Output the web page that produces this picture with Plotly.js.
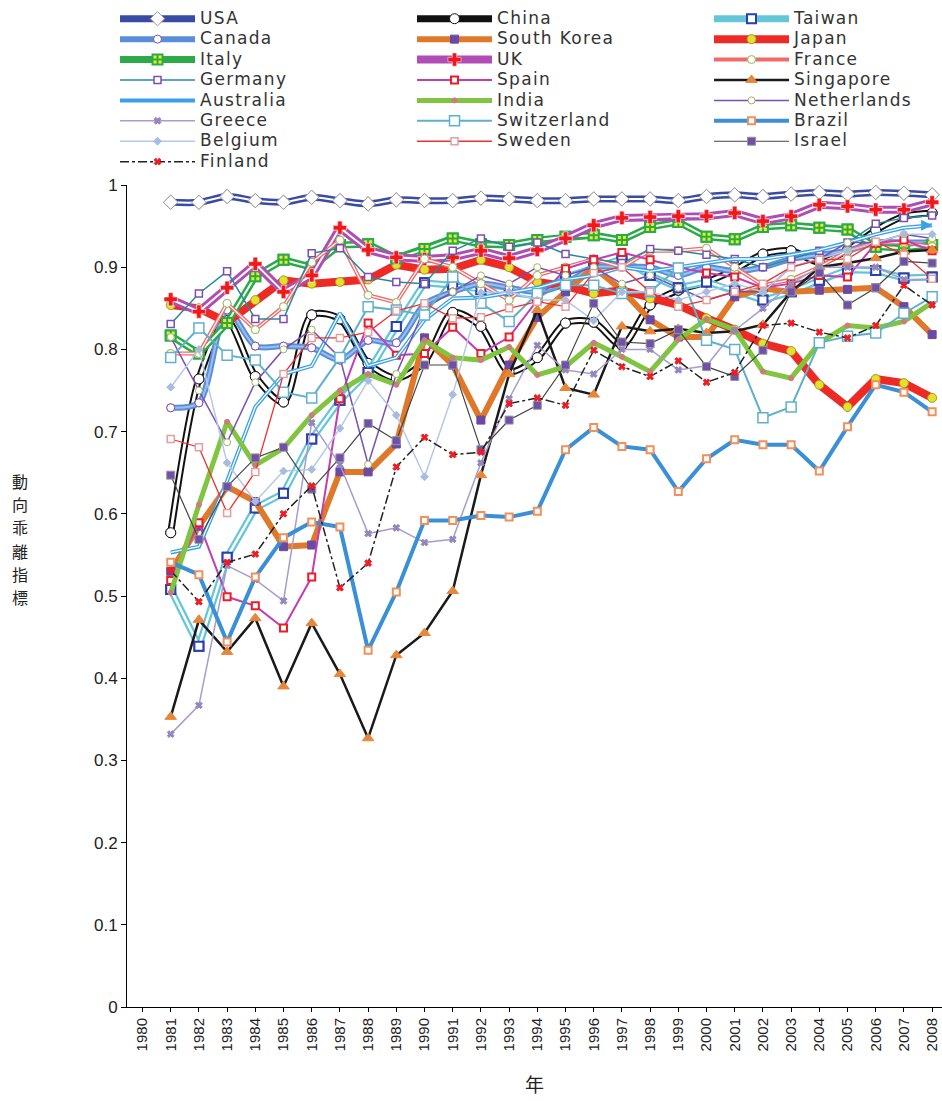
<!DOCTYPE html>
<html><head><meta charset="utf-8">
<script src="https://cdn.plot.ly/plotly-3.0.1.min.js"></script>
<style>
html,body{margin:0;background:#fff;overflow:hidden;width:942px;height:1101px}
#c{width:1010px;height:1101px}
#c .legendtext{font-size:17px !important;letter-spacing:1.3px}
</style>
</head><body><div id="c"></div>
<script>
const years=[1981,1982,1983,1984,1985,1986,1987,1988,1989,1990,1991,1992,1993,1994,1995,1996,1997,1998,1999,2000,2001,2002,2003,2004,2005,2006,2007,2008];
const tickYears=[1980,1981,1982,1983,1984,1985,1986,1987,1988,1989,1990,1991,1992,1993,1994,1995,1996,1997,1998,1999,2000,2001,2002,2003,2004,2005,2006,2007,2008];
const usa=[0.979,0.979,0.986,0.981,0.979,0.985,0.981,0.977,0.982,0.981,0.981,0.984,0.983,0.981,0.981,0.983,0.983,0.983,0.981,0.986,0.988,0.986,0.989,0.991,0.989,0.991,0.990,0.988];
const china=[0.577,0.764,0.835,0.767,0.736,0.842,0.837,0.783,0.765,0.785,0.845,0.828,0.773,0.79,0.832,0.833,0.805,0.854,0.872,0.882,0.897,0.916,0.92,0.906,0.921,0.945,0.962,0.966];
const taiwan=[0.508,0.439,0.547,0.607,0.625,0.691,0.738,0.772,0.828,0.881,0.878,0.873,0.87,0.865,0.888,0.9,0.91,0.89,0.875,0.882,0.872,0.86,0.87,0.884,0.897,0.896,0.887,0.888];
const canada=[0.729,0.735,0.848,0.804,0.804,0.802,0.787,0.811,0.808,0.855,0.87,0.88,0.875,0.87,0.88,0.9,0.9,0.9,0.89,0.9,0.895,0.9,0.91,0.915,0.92,0.93,0.93,0.93];
const southKorea=[0.53,0.585,0.633,0.615,0.56,0.562,0.651,0.651,0.685,0.814,0.781,0.714,0.781,0.839,0.87,0.9,0.872,0.836,0.815,0.815,0.864,0.874,0.87,0.872,0.873,0.875,0.852,0.818];
const japan=[0.854,0.85,0.833,0.86,0.884,0.88,0.882,0.885,0.903,0.897,0.898,0.909,0.9,0.882,0.877,0.868,0.872,0.862,0.854,0.838,0.824,0.807,0.798,0.757,0.73,0.764,0.759,0.741];
const italy=[0.817,0.795,0.832,0.889,0.909,0.9,0.927,0.928,0.911,0.922,0.935,0.928,0.927,0.933,0.937,0.939,0.933,0.949,0.955,0.937,0.934,0.949,0.951,0.948,0.946,0.925,0.923,0.927];
const uk=[0.861,0.846,0.875,0.904,0.87,0.89,0.948,0.921,0.912,0.91,0.912,0.92,0.911,0.921,0.935,0.951,0.96,0.961,0.962,0.962,0.966,0.956,0.962,0.976,0.974,0.97,0.97,0.979];
const france=[0.795,0.795,0.856,0.824,0.852,0.906,0.933,0.866,0.857,0.91,0.9,0.88,0.86,0.89,0.9,0.91,0.9,0.92,0.92,0.923,0.9,0.878,0.885,0.9,0.92,0.93,0.93,0.925];
const germany=[0.831,0.868,0.895,0.837,0.837,0.917,0.923,0.888,0.882,0.88,0.92,0.935,0.925,0.93,0.916,0.91,0.905,0.922,0.92,0.915,0.91,0.9,0.91,0.92,0.93,0.953,0.96,0.963];
const spain=[0.519,0.589,0.499,0.488,0.461,0.523,0.74,0.832,0.793,0.795,0.827,0.795,0.815,0.86,0.898,0.909,0.918,0.909,0.9,0.893,0.888,0.875,0.88,0.89,0.888,0.929,0.933,0.92];
const singapore=[0.353,0.471,0.432,0.473,0.39,0.467,0.405,0.327,0.428,0.455,0.506,0.647,0.77,0.848,0.753,0.745,0.828,0.822,0.825,0.82,0.822,0.83,0.87,0.9,0.905,0.911,0.919,0.921];
const australia=[0.553,0.56,0.64,0.73,0.77,0.78,0.844,0.78,0.79,0.836,0.862,0.863,0.869,0.875,0.885,0.89,0.9,0.895,0.9,0.905,0.91,0.91,0.915,0.921,0.93,0.94,0.948,0.951];
const india=[0.504,0.611,0.712,0.659,0.68,0.72,0.75,0.77,0.757,0.811,0.79,0.787,0.803,0.769,0.779,0.808,0.791,0.773,0.812,0.837,0.824,0.773,0.765,0.808,0.829,0.826,0.834,0.857];
const netherlands=[0.815,0.75,0.687,0.76,0.8,0.824,0.79,0.66,0.77,0.85,0.87,0.89,0.88,0.9,0.89,0.9,0.88,0.89,0.875,0.86,0.87,0.87,0.9,0.91,0.93,0.93,0.94,0.935];
const greece=[0.332,0.367,0.537,0.52,0.494,0.711,0.66,0.576,0.583,0.565,0.569,0.662,0.74,0.805,0.775,0.77,0.8,0.8,0.775,0.78,0.823,0.85,0.88,0.9,0.9,0.9,0.885,0.885];
const switzerland=[0.79,0.826,0.793,0.787,0.748,0.741,0.79,0.852,0.848,0.842,0.888,0.856,0.834,0.868,0.878,0.878,0.868,0.87,0.899,0.811,0.8,0.717,0.73,0.808,0.816,0.82,0.844,0.864];
const brazil=[0.541,0.526,0.444,0.523,0.571,0.59,0.584,0.434,0.505,0.592,0.592,0.598,0.596,0.603,0.678,0.705,0.682,0.678,0.627,0.667,0.69,0.684,0.684,0.652,0.706,0.757,0.748,0.724];
const belgium=[0.754,0.8,0.662,0.615,0.652,0.654,0.704,0.762,0.72,0.645,0.745,0.869,0.87,0.86,0.86,0.835,0.87,0.87,0.86,0.87,0.88,0.87,0.9,0.91,0.92,0.93,0.94,0.94];
const sweden=[0.691,0.681,0.601,0.651,0.77,0.814,0.814,0.821,0.847,0.856,0.838,0.839,0.85,0.858,0.852,0.893,0.9,0.87,0.852,0.86,0.87,0.88,0.9,0.909,0.91,0.931,0.915,0.886];
const israel=[0.647,0.569,0.633,0.668,0.681,0.63,0.668,0.71,0.689,0.781,0.781,0.678,0.714,0.732,0.781,0.856,0.809,0.807,0.824,0.779,0.767,0.799,0.87,0.893,0.854,0.875,0.907,0.905];
const finland=[0.531,0.493,0.541,0.551,0.6,0.634,0.51,0.54,0.657,0.693,0.672,0.675,0.734,0.741,0.732,0.799,0.779,0.767,0.786,0.76,0.772,0.829,0.832,0.821,0.814,0.829,0.878,0.854];

const seriesNames=['USA','China','Taiwan','Canada','South Korea','Japan','Italy','UK','France','Germany','Spain','Singapore','Australia','India','Netherlands','Greece','Switzerland','Brazil','Belgium','Sweden','Israel','Finland'];
const seriesValues=[usa,china,taiwan,canada,southKorea,japan,italy,uk,france,germany,spain,singapore,australia,india,netherlands,greece,switzerland,brazil,belgium,sweden,israel,finland];
const yTitleChars=['動','向','乖','離','指','標'];

const styles={
 'USA':{c:'#3a4ba6',w:7,inner:'#ffffff',iw:2,sym:'diamond',mc:'#ffffff',ml:'#999999',ms:11,shape:'spline'},
 'China':{c:'#111111',w:7,inner:'#ffffff',iw:3,sym:'circle',mc:'#ffffff',ml:'#111111',ms:10,shape:'spline'},
 'Taiwan':{c:'#64c6d8',w:7,inner:'#ffffff',iw:2.5,sym:'square',mc:'#ffffff',ml:'#2b3fae',ms:9,mlw:2},
 'Canada':{c:'#5b8ed8',w:6,inner:'#9cc0ee',iw:2,sym:'circle',mc:'#ffffff',ml:'#7a52a8',ms:8,shape:'spline'},
 'South Korea':{c:'#e0782a',w:6,sym:'square',mc:'#6a4aa2',ml:'#6a4aa2',ms:8},
 'Japan':{c:'#ee2a24',w:8,sym:'circle',mc:'#e6e02a',ml:'#a09a30',ms:9},
 'Italy':{c:'#2aab48',w:7,inner:'#ffffff',iw:2,sym:'square-cross',mc:'#eaea2a',ml:'#2aab48',ms:10,mlw:2},
 'UK':{c:'#b04db4',w:8,inner:'#ffffff',iw:2,sym:'cross',mc:'#f01818',ml:'#ffffff',ms:11,mlw:0.5},
 'France':{c:'#f06a6a',w:4,inner:'#ffffff',iw:1.3,sym:'circle',mc:'#ffffff',ml:'#9ab860',ms:8},
 'Germany':{c:'#28889a',w:1.5,sym:'square',mc:'#ffffff',ml:'#7a4fb0',ms:7,mlw:1.5},
 'Spain':{c:'#c23eb2',w:2,sym:'square',mc:'#ffffff',ml:'#ee1c24',ms:7,mlw:2},
 'Singapore':{c:'#1a1a1a',w:2.5,sym:'triangle-up',mc:'#e8873a',ml:'#e8873a',ms:10},
 'Australia':{c:'#3aa0e8',w:4,inner:'#ffffff',iw:1.3,sym:'none',endArrow:true},
 'India':{c:'#80c440',w:5,sym:'circle',mc:'#d07a80',ml:'#d07a80',ms:5},
 'Netherlands':{c:'#7a4fb0',w:1.5,sym:'circle',mc:'#ffffff',ml:'#9ab860',ms:7},
 'Greece':{c:'#a89ccc',w:1.5,sym:'x',mc:'#9486bc',ml:'#9486bc',ms:6},
 'Switzerland':{c:'#5fb0cc',w:2,sym:'square',mc:'#ffffff',ml:'#5fb0cc',ms:10,mlw:1.5},
 'Brazil':{c:'#3a8fd6',w:4,sym:'square',mc:'#ffffff',ml:'#f0905a',ms:7,mlw:2},
 'Belgium':{c:'#b6c8e8',w:1.5,sym:'diamond',mc:'#a8bce0',ml:'#a8bce0',ms:6},
 'Sweden':{c:'#ee3030',w:1.3,sym:'square',mc:'#ffffff',ml:'#e0a0a0',ms:7,mlw:1.5},
 'Israel':{c:'#444444',w:1.2,sym:'square',mc:'#7050a8',ml:'#999999',ms:8},
 'Finland':{c:'#222222',w:1.5,dash:'dashdot',sym:'x',mc:'#ee1c24',ml:'#ee1c24',ms:6}
};

const traces=[];
seriesNames.forEach((name,i)=>{
  const s=styles[name], y=seriesValues[i];
  const hasMarker=s.sym!=='none';
  const main={x:years,y:y,name:name,type:'scatter',mode:hasMarker?'lines+markers':'lines',
    line:{color:s.c,width:s.w,dash:s.dash||'solid',shape:s.shape||'linear',smoothing:0.8},legendgroup:name};
  let marker=null;
  if(hasMarker){marker={symbol:s.sym,color:s.mc,size:s.ms,line:{color:s.ml,width:s.mlw||1}};main.marker=marker;}
  traces.push(main);
  if(s.inner){
    traces.push({x:years,y:y,name:name,type:'scatter',mode:'lines',showlegend:false,legendgroup:name,
      line:{color:s.inner,width:s.iw,shape:s.shape||'linear',smoothing:0.8},hoverinfo:'skip'});
    if(hasMarker) traces.push({x:years,y:y,name:name,type:'scatter',mode:'markers',showlegend:false,legendgroup:name,marker:marker,hoverinfo:'skip'});
  }
  if(s.endArrow){
    traces.push({x:years.slice(-1),y:y.slice(-1),name:name,type:'scatter',mode:'markers',showlegend:false,legendgroup:name,
      marker:{symbol:'arrow-right',color:s.c,size:11,line:{width:0}},hoverinfo:'skip'});
  }
});

const yTitleAnn=yTitleChars.map((ch,k)=>({text:ch,xref:'paper',yref:'paper',x:-0.131,
  y:0.640-k*(23.2/822),xanchor:'center',yanchor:'middle',showarrow:false,
  font:{size:16,family:'Noto Sans CJK JP, sans-serif',color:'#222'}}));

const layout={
  width:1010,height:1101,paper_bgcolor:'#ffffff',plot_bgcolor:'#ffffff',
  margin:{l:127,r:68,t:185,b:94,autoexpand:false},
  showlegend:true,
  font:{family:'Liberation Sans, Arial, sans-serif',color:'#222'},
  legend:{orientation:'h',x:-0.0147,xanchor:'left',y:1.2208,yanchor:'top',entrywidth:207,entrywidthmode:'pixels',
    itemwidth:75,traceorder:'normal',font:{family:'DejaVu Sans, sans-serif',size:13.4,color:'#333'},bgcolor:'rgba(0,0,0,0)',tracegroupgap:0},
  xaxis:{range:[1979.45,2008.35],tickmode:'array',tickvals:tickYears,ticktext:tickYears.map(String),tickangle:-90,
    showgrid:false,zeroline:false,showline:true,linecolor:'#000',linewidth:1,ticks:'outside',ticklen:4,tickcolor:'#000',
    tickfont:{size:15,family:'Liberation Sans, Arial, sans-serif',color:'#222'},
    title:{text:'年',font:{size:19,family:'Noto Sans CJK JP, sans-serif',color:'#222'},standoff:28}},
  yaxis:{range:[0,1],dtick:0.1,tick0:0,showgrid:false,zeroline:false,showline:true,linecolor:'#000',linewidth:1,
    ticks:'outside',ticklen:5,tickcolor:'#000',tickfont:{size:17,family:'Liberation Sans, Arial, sans-serif',color:'#222'}},
  annotations:yTitleAnn
};
Plotly.newPlot('c',traces,layout,{displayModeBar:false,staticPlot:true});
</script></body></html>
